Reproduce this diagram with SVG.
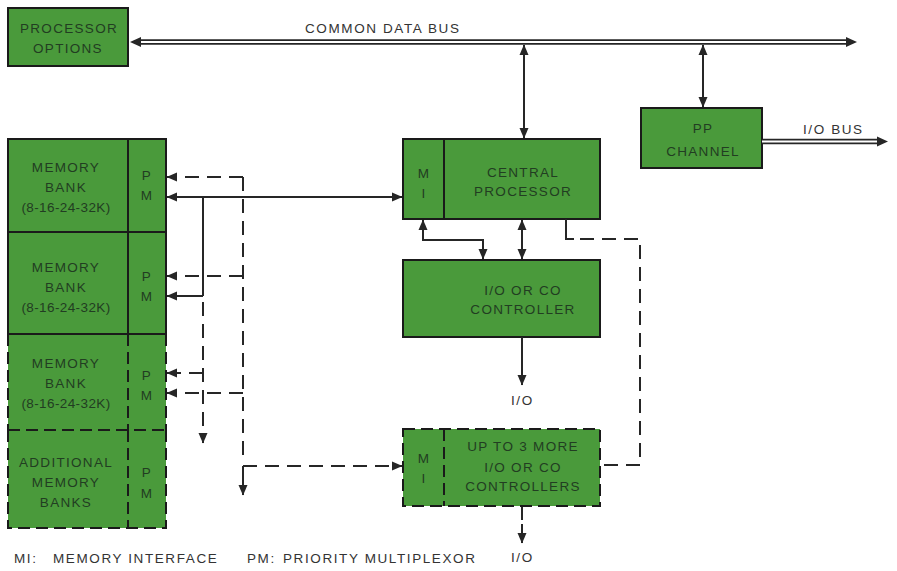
<svg xmlns="http://www.w3.org/2000/svg" width="897" height="571" viewBox="0 0 897 571">
<defs>
<style>
.box{fill:#4a9a3b;stroke:#1a1a1a;stroke-width:2}
.dbox{fill:#4a9a3b;stroke:none}
.dedge{fill:none;stroke:#1a1a1a;stroke-width:2;stroke-dasharray:12 6}
.sedge{fill:none;stroke:#1a1a1a;stroke-width:2}
.t{font-family:"Liberation Sans",Arial,sans-serif;font-size:13.5px;letter-spacing:1.3px;fill:#223d22;text-anchor:middle}
.n{letter-spacing:0.4px}
.o{font-family:"Liberation Sans",Arial,sans-serif;font-size:13.5px;letter-spacing:1.6px;fill:#333}
.c{fill:none;stroke:#262626;stroke-width:2}
.d{fill:none;stroke:#262626;stroke-width:2;stroke-dasharray:14 8}
.ah{fill:#262626}
</style>
<marker id="a" markerUnits="userSpaceOnUse" markerWidth="11" markerHeight="10" refX="10" refY="5" orient="auto-start-reverse" viewBox="0 0 11 10">
<path d="M0,0.5 L10.5,5 L0,9.5 z" fill="#262626"/>
</marker>
</defs>
<rect width="897" height="571" fill="#ffffff"/>

<g id="processor-options">
<rect class="box" x="8" y="8" width="120" height="58"/>
<text class="t" x="69" y="33">PROCESSOR</text>
<text class="t" x="68" y="53">OPTIONS</text>
</g>

<g id="bus-label">
<text class="o" x="305" y="33">COMMON DATA BUS</text>
</g>

<g id="memory-bank-1">
<rect class="box" x="8" y="139" width="158" height="93"/>
<line class="sedge" x1="128" y1="139" x2="128" y2="232"/>
<text class="t" x="66" y="172">MEMORY</text>
<text class="t" x="66" y="192">BANK</text>
<text class="t n" x="66" y="212">(8-16-24-32K)</text>
<text class="t" x="147" y="180">P</text>
<text class="t" x="147" y="200">M</text>
</g>

<g id="memory-bank-2">
<rect class="box" x="8" y="232" width="158" height="102"/>
<line class="sedge" x1="128" y1="232" x2="128" y2="334"/>
<text class="t" x="66" y="272">MEMORY</text>
<text class="t" x="66" y="292">BANK</text>
<text class="t n" x="66" y="312">(8-16-24-32K)</text>
<text class="t" x="147" y="281">P</text>
<text class="t" x="147" y="301">M</text>
</g>

<g id="memory-bank-3">
<rect class="dbox" x="8" y="334" width="158" height="96"/>
<path class="dedge" d="M8,334 L8,430 M128,334 L128,430 M166,334 L166,430"/>
<line class="sedge" x1="8" y1="334" x2="166" y2="334"/>
<text class="t" x="66" y="368">MEMORY</text>
<text class="t" x="66" y="388">BANK</text>
<text class="t n" x="66" y="408">(8-16-24-32K)</text>
<text class="t" x="147" y="380">P</text>
<text class="t" x="147" y="400">M</text>
</g>

<g id="additional-memory-banks">
<rect class="dbox" x="8" y="430" width="158" height="98"/>
<path class="dedge" d="M8,430 L166,430 M8,430 L8,528 L166,528 L166,430 M128,430 L128,528"/>
<text class="t" x="66" y="467">ADDITIONAL</text>
<text class="t" x="66" y="487">MEMORY</text>
<text class="t" x="66" y="507">BANKS</text>
<text class="t" x="147" y="477">P</text>
<text class="t" x="147" y="498">M</text>
</g>

<g id="central-processor">
<rect class="box" x="403" y="139" width="197" height="80"/>
<line class="sedge" x1="444" y1="139" x2="444" y2="219"/>
<text class="t" x="424" y="178">M</text>
<text class="t" x="424" y="198">I</text>
<text class="t" x="523" y="177">CENTRAL</text>
<text class="t" x="523" y="196">PROCESSOR</text>
</g>

<g id="pp-channel">
<rect class="box" x="641" y="108" width="121" height="60"/>
<text class="t" x="703" y="133">PP</text>
<text class="t" x="703" y="156">CHANNEL</text>
</g>

<g id="io-co-controller">
<rect class="box" x="403" y="260" width="197" height="77"/>
<text class="t" x="523" y="295">I/O OR CO</text>
<text class="t" x="523" y="314">CONTROLLER</text>
</g>

<g id="more-controllers">
<rect class="dbox" x="403" y="429" width="197" height="77"/>
<path class="dedge" d="M403,429 L600,429 L600,506 L403,506 Z M444,429 L444,506"/>
<text class="t" x="424" y="463">M</text>
<text class="t" x="424" y="483">I</text>
<text class="t" x="523" y="451">UP TO 3 MORE</text>
<text class="t" x="523" y="472">I/O OR CO</text>
<text class="t" x="523" y="491">CONTROLLERS</text>
</g>

<g id="connectors">
<line x1="138" y1="42" x2="848" y2="42" stroke="#262626" stroke-width="5.5"/>
<line x1="138" y1="42" x2="848" y2="42" stroke="#ffffff" stroke-width="1.8"/>
<polygon class="ah" points="130,42 141,37 141,47"/>
<polygon class="ah" points="857,42 846,37 846,47"/>
<line x1="762" y1="141.5" x2="880" y2="141.5" stroke="#262626" stroke-width="5.5"/>
<line x1="762" y1="141.5" x2="880" y2="141.5" stroke="#ffffff" stroke-width="1.8"/>
<polygon class="ah" points="888,141.5 877,136.5 877,146.5"/>
<path class="c" d="M524,45 L524,138" marker-start="url(#a)" marker-end="url(#a)"/>
<path class="c" d="M703,45 L703,107" marker-start="url(#a)" marker-end="url(#a)"/>
<path class="c" d="M167,197 L402,197" marker-start="url(#a)" marker-end="url(#a)"/>
<path class="c" d="M203,197 L203,296"/>
<path class="c" d="M203,296 L167,296" marker-end="url(#a)"/>
<path class="d" d="M203,302 L203,443" marker-end="url(#a)"/>
<path class="d" d="M203,373 L167,373" marker-end="url(#a)"/>
<path class="d" d="M243,177 L167,177" marker-end="url(#a)"/>
<path class="d" d="M243,177 L243,458"/>
<path class="d" d="M243,276 L167,276" marker-end="url(#a)"/>
<path class="d" d="M243,393 L167,393" marker-end="url(#a)"/>
<path class="d" d="M243,466 L402,466" marker-end="url(#a)"/>
<path class="c" d="M243,466 L243,495" marker-end="url(#a)"/>
<path class="c" d="M423,220 L423,240 L483,240 L483,259" marker-start="url(#a)" marker-end="url(#a)"/>
<path class="c" d="M522,220 L522,259" marker-start="url(#a)" marker-end="url(#a)"/>
<path class="c" d="M566,219 L566,239 L574,239"/>
<path class="d" d="M580,239 L640,239 L640,465 L601,465"/>
<path class="c" d="M522,337 L522,385" marker-end="url(#a)"/>
<path class="d" d="M522,507 L522,520"/>
<path class="c" d="M522,524 L522,543" marker-end="url(#a)"/>
</g>

<g id="labels">
<text class="o" x="803" y="134">I/O BUS</text>
<text class="o" x="511" y="405">I/O</text>
<text class="o" x="511" y="562">I/O</text>
<text class="o" x="14" y="563">MI:</text>
<text class="o" x="53" y="563">MEMORY INTERFACE</text>
<text class="o" x="247" y="563">PM:</text>
<text class="o" x="283" y="563">PRIORITY MULTIPLEXOR</text>
</g>
</svg>
